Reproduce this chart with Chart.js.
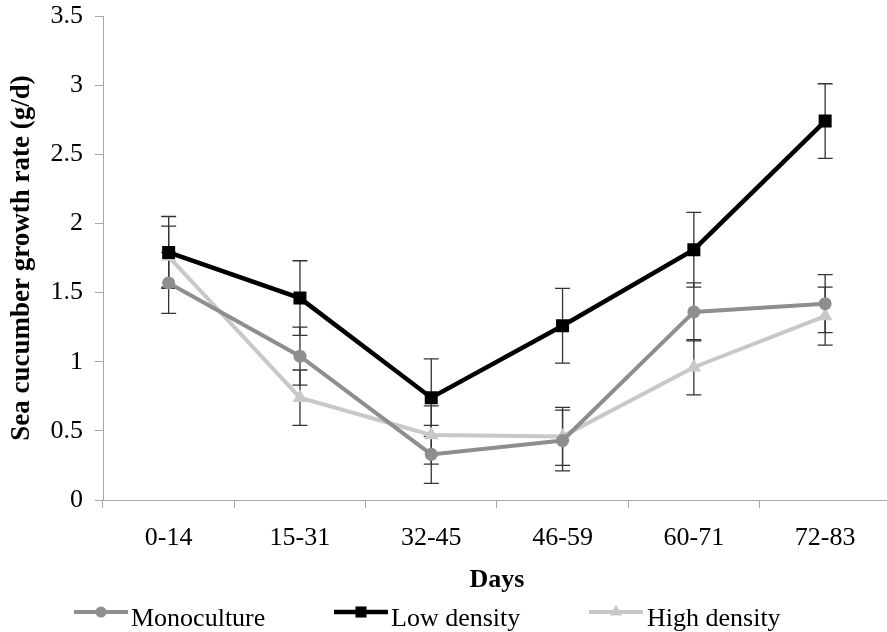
<!DOCTYPE html>
<html>
<head>
<meta charset="utf-8">
<script src="https://cdn.jsdelivr.net/npm/chart.js@4.4.1/dist/chart.umd.min.js"></script>
<style>
  html, body { margin: 0; padding: 0; background: #ffffff; overflow: hidden; }
  #wrap { position: relative; width: 900px; height: 632px; }
</style>
</head>
<body>
<div id="wrap"><canvas id="c"></canvas></div>
<script>
const categories = ['0-14', '15-31', '32-45', '46-59', '60-71', '72-83'];
const seriesNames = ['Monoculture', 'Low density', 'High density'];
const monoculture = [1.57, 1.04, 0.33, 0.43, 1.36, 1.42];
const monocultureErr = [0.22, 0.21, 0.21, 0.22, 0.21, 0.21];
const lowDensity = [1.79, 1.46, 0.74, 1.26, 1.81, 2.74];
const lowDensityErr = [0.26, 0.27, 0.28, 0.27, 0.27, 0.27];
const highDensity = [1.76, 0.74, 0.47, 0.46, 0.96, 1.33];
const highDensityErr = [0.22, 0.20, 0.21, 0.21, 0.20, 0.21];
const yTicks = [0, 0.5, 1, 1.5, 2, 2.5, 3, 3.5];
const xTitle = 'Days';
const yTitle = 'Sea cucumber growth rate (g/d)';

const FONT = '"Liberation Serif", "Times New Roman", serif';
const errors = [monocultureErr, lowDensityErr, highDensityErr];

const errorBarPlugin = {
  id: 'errorBars',
  beforeDatasetsDraw(chart) {
    const ctx = chart.ctx;
    const x = chart.scales.x, y = chart.scales.y;
    ctx.save();
    ctx.strokeStyle = '#333333';
    ctx.lineWidth = 1.3;
    chart.data.datasets.forEach((ds, di) => {
      const err = errors[di];
      ds.data.forEach((v, i) => {
        const px = x.getPixelForValue(i);
        const top = y.getPixelForValue(v + err[i]);
        const bot = y.getPixelForValue(v - err[i]);
        ctx.beginPath();
        ctx.moveTo(px, top); ctx.lineTo(px, bot);
        ctx.moveTo(px - 7.5, top); ctx.lineTo(px + 7.5, top);
        ctx.moveTo(px - 7.5, bot); ctx.lineTo(px + 7.5, bot);
        ctx.stroke();
      });
    });
    ctx.restore();
  }
};

const legendPos = [
  { x0: 74, x1: 128, tx: 131 },
  { x0: 334, x1: 388, tx: 391 },
  { x0: 589, x1: 643, tx: 647 }
];

function drawMarker(ctx, style, cx, cy, r, color) {
  ctx.fillStyle = color;
  ctx.beginPath();
  if (style === 'circle') {
    ctx.arc(cx, cy, r, 0, Math.PI * 2);
  } else if (style === 'rect') {
    const s = r * Math.SQRT1_2;
    ctx.rect(cx - s, cy - s, 2 * s, 2 * s);
  } else if (style === 'triangle') {
    ctx.moveTo(cx, cy - r);
    ctx.lineTo(cx + r * Math.sin(Math.PI / 3), cy + r / 2);
    ctx.lineTo(cx - r * Math.sin(Math.PI / 3), cy + r / 2);
    ctx.closePath();
  }
  ctx.fill();
}

const customLegend = {
  id: 'customLegend',
  afterDraw(chart) {
    const ctx = chart.ctx;
    ctx.save();
    chart.data.datasets.forEach((ds, di) => {
      const p = legendPos[di];
      const ly = 612;
      ctx.strokeStyle = ds.borderColor;
      ctx.lineWidth = ds.borderWidth;
      ctx.beginPath();
      ctx.moveTo(p.x0, ly); ctx.lineTo(p.x1, ly);
      ctx.stroke();
      drawMarker(ctx, ds.pointStyle, (p.x0 + p.x1) / 2, ly, ds.pointRadius * 0.85, ds.pointBackgroundColor);
      ctx.fillStyle = '#000000';
      ctx.font = '26px ' + FONT;
      ctx.textBaseline = 'alphabetic';
      ctx.textAlign = 'left';
      ctx.fillText(ds.label, p.tx, 626);
    });
    ctx.restore();
  }
};

new Chart(document.getElementById('c'), {
  type: 'line',
  data: {
    labels: categories,
    datasets: [
      {
        label: seriesNames[0], data: monoculture,
        borderColor: '#8e8e8e', backgroundColor: '#8e8e8e',
        pointBackgroundColor: '#8e8e8e', pointBorderColor: '#8e8e8e',
        borderWidth: 4, pointStyle: 'circle', pointRadius: 6.5, pointBorderWidth: 0,
        tension: 0, order: 2
      },
      {
        label: seriesNames[1], data: lowDensity,
        borderColor: '#000000', backgroundColor: '#000000',
        pointBackgroundColor: '#000000', pointBorderColor: '#000000',
        borderWidth: 4.5, pointStyle: 'rect', pointRadius: 9.2, pointBorderWidth: 0,
        tension: 0, order: 1
      },
      {
        label: seriesNames[2], data: highDensity,
        borderColor: '#c8c8c8', backgroundColor: '#c8c8c8',
        pointBackgroundColor: '#c8c8c8', pointBorderColor: '#c8c8c8',
        borderWidth: 4, pointStyle: 'triangle', pointRadius: 8.5, pointBorderWidth: 0,
        tension: 0, order: 3
      }
    ]
  },
  options: {
    responsive: true,
    maintainAspectRatio: false,
    animation: false,
    events: [],
    layout: { padding: { top: 0, right: 2, bottom: 36, left: 0 } },
    plugins: {
      legend: { display: false },
      tooltip: { enabled: false }
    },
    scales: {
      x: {
        offset: true,
        grid: { display: true, offset: true, drawOnChartArea: false, drawTicks: true, tickLength: 8, color: '#a6a6a6', lineWidth: 1 },
        border: { display: true, color: '#a6a6a6', width: 1 },
        ticks: { color: '#000000', font: { family: FONT, size: 26 }, padding: 15, maxRotation: 0 },
        title: { display: true, text: xTitle, color: '#000000', font: { family: FONT, size: 26, weight: 'bold' }, padding: { top: 0, bottom: 0 } },
        afterFit(scale) { scale.height = 96; }
      },
      y: {
        min: 0, max: 3.5,
        afterBuildTicks(scale) { scale.ticks = yTicks.map(v => ({ value: v })); },
        grid: { display: true, drawOnChartArea: false, drawTicks: true, tickLength: 8, color: '#a6a6a6', lineWidth: 1 },
        border: { display: true, color: '#a6a6a6', width: 1 },
        ticks: { color: '#000000', font: { family: FONT, size: 26 }, padding: 12, callback: v => String(v) },
        title: { display: true, text: yTitle, color: '#000000', font: { family: FONT, size: 27, weight: 'bold' }, padding: { top: 6, bottom: 0 } },
        afterFit(scale) { scale.width = 103; scale.paddingTop = 16; scale.paddingBottom = 0; }
      }
    }
  },
  plugins: [errorBarPlugin, customLegend]
});
</script>
</body>
</html>
